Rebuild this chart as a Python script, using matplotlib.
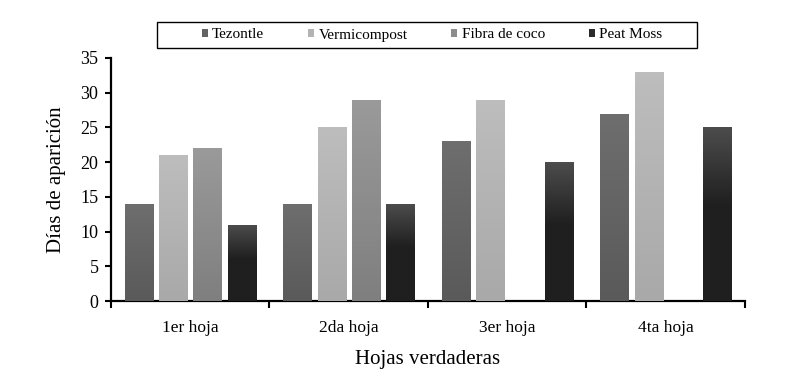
import numpy as np
import matplotlib
matplotlib.use("Agg")
import matplotlib.pyplot as plt
from matplotlib.patches import Patch, Rectangle
from matplotlib.colors import LinearSegmentedColormap

plt.rcParams['font.family'] = ['Liberation Serif', 'DejaVu Serif']

categories = ["1er hoja", "2da hoja", "3er hoja", "4ta hoja"]
series = ["Tezontle", "Vermicompost", "Fibra de coco", "Peat Moss"]
tezontle = [14, 14, 23, 27]
vermicompost = [21, 25, 29, 33]
fibra = [22, 29, 0, 0]
peat = [11, 14, 20, 25]
values = [tezontle, vermicompost, fibra, peat]

top_colors = ["#6e6e6e", "#bdbdbd", "#9a9a9a", "#4c4c4c"]
bot_colors = ["#5a5a5a", "#a9a9a9", "#7f7f7f", "#1f1f1f"]
mid_colors = ["#636363", "#b3b3b3", "#8c8c8c", "#2a2a2a"]

W, H = 791, 379
fig = plt.figure(figsize=(W / 100, H / 100), dpi=100)
ax = fig.add_axes([0.1403, 0.2058, 0.8015, 0.6412])

x = np.arange(len(categories))
step = 0.216
width = 0.177
for i, (vals, s) in enumerate(zip(values, series)):
    bars = ax.bar(x + (i - 1.5) * step, vals, width, color=mid_colors[i], zorder=2, label=s)
    if i == 3:
        cmap = LinearSegmentedColormap.from_list("g", [(0, bot_colors[i]), (0.55, bot_colors[i]), (1, top_colors[i])])
    else:
        cmap = LinearSegmentedColormap.from_list("g", [bot_colors[i], top_colors[i]])
    for b in bars:
        h = b.get_height()
        if h <= 0:
            continue
        x0 = b.get_x()
        grad = np.linspace(0, 1, 64).reshape(-1, 1)
        im = ax.imshow(grad, cmap=cmap, origin="lower", aspect="auto",
                       extent=(x0, x0 + b.get_width(), 0, h), zorder=3)
        im.set_clip_path(b)

ax.set_xlim(-0.5, 3.5)
ax.set_ylim(0, 35)
ax.set_yticks(np.arange(0, 36, 5))
ax.set_xticks(np.arange(-0.5, 4.0, 1.0))
ax.set_xticklabels([])
ax.set_xticks(x, minor=True)
ax.set_xticklabels(categories, minor=True)
ax.tick_params(axis='x', which='minor', length=0, pad=14, labelsize=12.5)
ax.tick_params(axis='x', which='major', length=5, width=1.5, direction='out')
ax.tick_params(axis='y', length=4, width=1.5, direction='out', pad=5, labelsize=13)

for s in ['top', 'right']:
    ax.spines[s].set_visible(False)
for s in ['left', 'bottom']:
    ax.spines[s].set_linewidth(1.6)
    ax.spines[s].set_color('black')

ax.set_xlabel("Hojas verdaderas", fontsize=15, labelpad=10)
ax.set_ylabel("Días de aparición", fontsize=15, labelpad=10)

handles = [Patch(facecolor=mid_colors[i], edgecolor='none') for i in range(4)]
leg = fig.legend(handles, series, loc='center left', bbox_to_anchor=(201.7 / W, 1 - 35 / H), ncol=4,
                 fontsize=11, frameon=False,
                 handlelength=0.39, handleheight=0.39, handletextpad=0.3,
                 columnspacing=2.86, borderpad=0, borderaxespad=0)
fig.add_artist(Rectangle((157 / W, 1 - 48 / H), 540 / W, 26 / H, transform=fig.transFigure,
                         facecolor='none', edgecolor='black', linewidth=1.0))

fig.savefig("out.png", dpi=100)
